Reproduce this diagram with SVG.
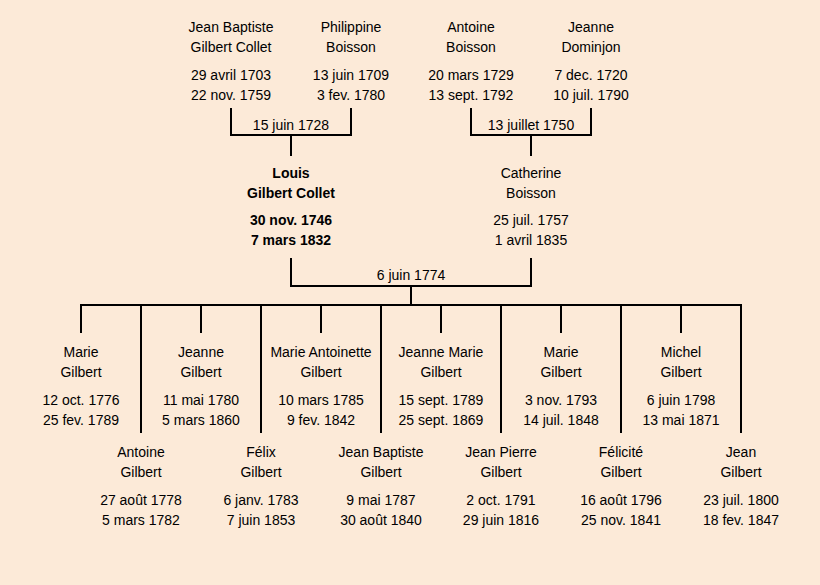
<svg xmlns="http://www.w3.org/2000/svg" width="820" height="585" viewBox="0 0 820 585">
<style>
text{font-family:"Liberation Sans",Arial,sans-serif;font-size:14px;fill:#000;text-anchor:middle}
.b{font-weight:bold}
.ln{stroke:#000;stroke-width:2;fill:none}
</style>
<rect width="820" height="585" fill="#FCEAD8"/>
<g id="connectors" class="ln">
<path d="M231,108V135H351V108M291,135V156"/>
<path d="M471,108V135H591V108M531,135V156"/>
<path d="M291,258V286H531V258M411,286V305"/>
<path d="M80,305H742"/>
<path d="M81,305V333M201,305V333M321,305V333M441,305V333M561,305V333M681,305V333"/>
<path d="M141,305V433M261,305V433M381,305V433M501,305V433M621,305V433M741,305V433"/>
</g>
<g id="marriage-labels">
<text x="291" y="130">15 juin 1728</text>
<text x="531" y="130">13 juillet 1750</text>
<text x="411" y="280">6 juin 1774</text>
</g>
<g id="jean-baptiste-gilbert-collet"><text x="231" y="32">Jean Baptiste</text><text x="231" y="52">Gilbert Collet</text><text x="231" y="80">29 avril 1703</text><text x="231" y="100">22 nov. 1759</text></g>
<g id="philippine-boisson"><text x="351" y="32">Philippine</text><text x="351" y="52">Boisson</text><text x="351" y="80">13 juin 1709</text><text x="351" y="100">3 fev. 1780</text></g>
<g id="antoine-boisson"><text x="471" y="32">Antoine</text><text x="471" y="52">Boisson</text><text x="471" y="80">20 mars 1729</text><text x="471" y="100">13 sept. 1792</text></g>
<g id="jeanne-dominjon"><text x="591" y="32">Jeanne</text><text x="591" y="52">Dominjon</text><text x="591" y="80">7 dec. 1720</text><text x="591" y="100">10 juil. 1790</text></g>
<g id="louis-gilbert-collet" class="b"><text x="291" y="178" class="b">Louis</text><text x="291" y="198" class="b">Gilbert Collet</text><text x="291" y="225" class="b">30 nov. 1746</text><text x="291" y="245" class="b">7 mars 1832</text></g>
<g id="catherine-boisson"><text x="531" y="178">Catherine</text><text x="531" y="198">Boisson</text><text x="531" y="225">25 juil. 1757</text><text x="531" y="245">1 avril 1835</text></g>
<g id="marie-1776"><text x="81" y="357">Marie</text><text x="81" y="377">Gilbert</text><text x="81" y="405">12 oct. 1776</text><text x="81" y="425">25 fev. 1789</text></g>
<g id="antoine-1778"><text x="141" y="457">Antoine</text><text x="141" y="477">Gilbert</text><text x="141" y="505">27 août 1778</text><text x="141" y="525">5 mars 1782</text></g>
<g id="jeanne-1780"><text x="201" y="357">Jeanne</text><text x="201" y="377">Gilbert</text><text x="201" y="405">11 mai 1780</text><text x="201" y="425">5 mars 1860</text></g>
<g id="felix-1783"><text x="261" y="457">Félix</text><text x="261" y="477">Gilbert</text><text x="261" y="505">6 janv. 1783</text><text x="261" y="525">7 juin 1853</text></g>
<g id="marie-antoinette-1785"><text x="321" y="357">Marie Antoinette</text><text x="321" y="377">Gilbert</text><text x="321" y="405">10 mars 1785</text><text x="321" y="425">9 fev. 1842</text></g>
<g id="jean-baptiste-1787"><text x="381" y="457">Jean Baptiste</text><text x="381" y="477">Gilbert</text><text x="381" y="505">9 mai 1787</text><text x="381" y="525">30 août 1840</text></g>
<g id="jeanne-marie-1789"><text x="441" y="357">Jeanne Marie</text><text x="441" y="377">Gilbert</text><text x="441" y="405">15 sept. 1789</text><text x="441" y="425">25 sept. 1869</text></g>
<g id="jean-pierre-1791"><text x="501" y="457">Jean Pierre</text><text x="501" y="477">Gilbert</text><text x="501" y="505">2 oct. 1791</text><text x="501" y="525">29 juin 1816</text></g>
<g id="marie-1793"><text x="561" y="357">Marie</text><text x="561" y="377">Gilbert</text><text x="561" y="405">3 nov. 1793</text><text x="561" y="425">14 juil. 1848</text></g>
<g id="felicite-1796"><text x="621" y="457">Félicité</text><text x="621" y="477">Gilbert</text><text x="621" y="505">16 août 1796</text><text x="621" y="525">25 nov. 1841</text></g>
<g id="michel-1798"><text x="681" y="357">Michel</text><text x="681" y="377">Gilbert</text><text x="681" y="405">6 juin 1798</text><text x="681" y="425">13 mai 1871</text></g>
<g id="jean-1800"><text x="741" y="457">Jean</text><text x="741" y="477">Gilbert</text><text x="741" y="505">23 juil. 1800</text><text x="741" y="525">18 fev. 1847</text></g>
</svg>
